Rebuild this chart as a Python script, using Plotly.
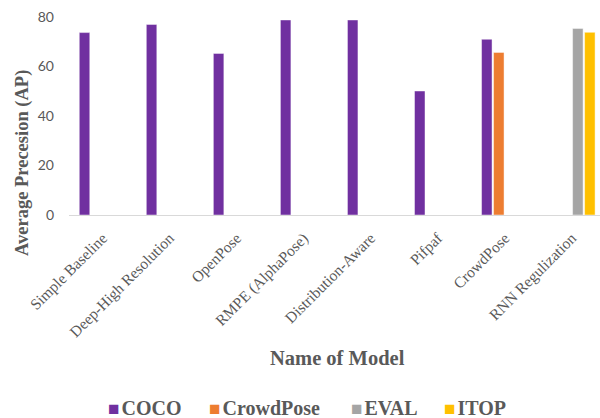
import plotly.graph_objects as go

models = ["Simple Baseline", "Deep-High Resolution", "OpenPose", "RMPE (AlphaPose)",
          "Distribution-Aware", "Pifpaf", "CrowdPose", "RNN Regulization"]
coco = [73.7, 77.0, 65.3, 78.8, 78.8, 50.1, 71.0, None]
crowdpose = [None, None, None, None, None, None, 65.7, None]
eval_ = [None, None, None, None, None, None, None, 75.4]
itop = [None, None, None, None, None, None, None, 73.8]

series_names = ["COCO", "CrowdPose", "EVAL", "ITOP"]
series_vals = [coco, crowdpose, eval_, itop]
series_colors = ["#7030A0", "#ED7D31", "#A5A5A5", "#FFC000"]

W, H = 600, 418
L, R, T, B = 69, 0, 17, 203
pw = W - L - R
ph = H - T - B

fig = go.Figure()
for name, vals, col in zip(series_names, series_vals, series_colors):
    fig.add_trace(go.Bar(x=list(range(len(models))), y=vals, name=name, showlegend=False,
                         marker=dict(color=col, line=dict(color="rgba(255,255,255,0.45)", width=1))))

# custom legend (Excel-style: small square right before the label)
legend_x = [107, 208, 350, 443]
annotations = []
for name, col, lx in zip(series_names, series_colors, legend_x):
    annotations.append(dict(
        text=(f"<span style='color:{col};font-size:19px'>■</span>"
              f"<span style='font-size:8px'> </span><b>{name}</b>"),
        xref="paper", yref="paper", x=(lx - L - 1) / pw, y=(215 - 408) / ph,
        xanchor="left", yanchor="middle", showarrow=False,
        font=dict(family="Liberation Serif", size=20, color="#595959")))

annotations += [
    dict(text="<b>Name of Model</b>", xref="paper", yref="paper",
         x=(337 - L) / pw, y=(215 - 358) / ph, xanchor="center", yanchor="middle",
         showarrow=False, font=dict(family="Liberation Serif", size=20.5, color="#595959")),
    dict(text="<b>Average Precesion (AP)</b>", xref="paper", yref="paper",
         x=(22 - L) / pw, y=(215 - 163) / ph, xanchor="center", yanchor="middle",
         textangle=-90, showarrow=False,
         font=dict(family="Liberation Serif", size=18.5, color="#595959")),
]

fig.update_layout(
    width=W, height=H, margin=dict(l=L, r=R, t=T, b=B, pad=0),
    paper_bgcolor="white", plot_bgcolor="white",
    barmode="group", bargap=0.284, bargroupgap=0.125,
    xaxis=dict(range=[-0.5, 7.42], tickmode="array", tickvals=list(range(len(models))),
               ticktext=models, tickangle=-45, showgrid=False, showline=True,
               linecolor="#D9D9D9", linewidth=1, ticks="", zeroline=False,
               ticklabelstandoff=7,
               tickfont=dict(family="Liberation Serif", size=15.5, color="#595959")),
    yaxis=dict(range=[0, 80], tickvals=[0, 20, 40, 60, 80], showgrid=False,
               showline=False, zeroline=False, ticks="", ticklabelstandoff=14,
               tickfont=dict(family="Lato", size=14, color="#595959")),
    annotations=annotations,
)

fig.write_html("out.html")
